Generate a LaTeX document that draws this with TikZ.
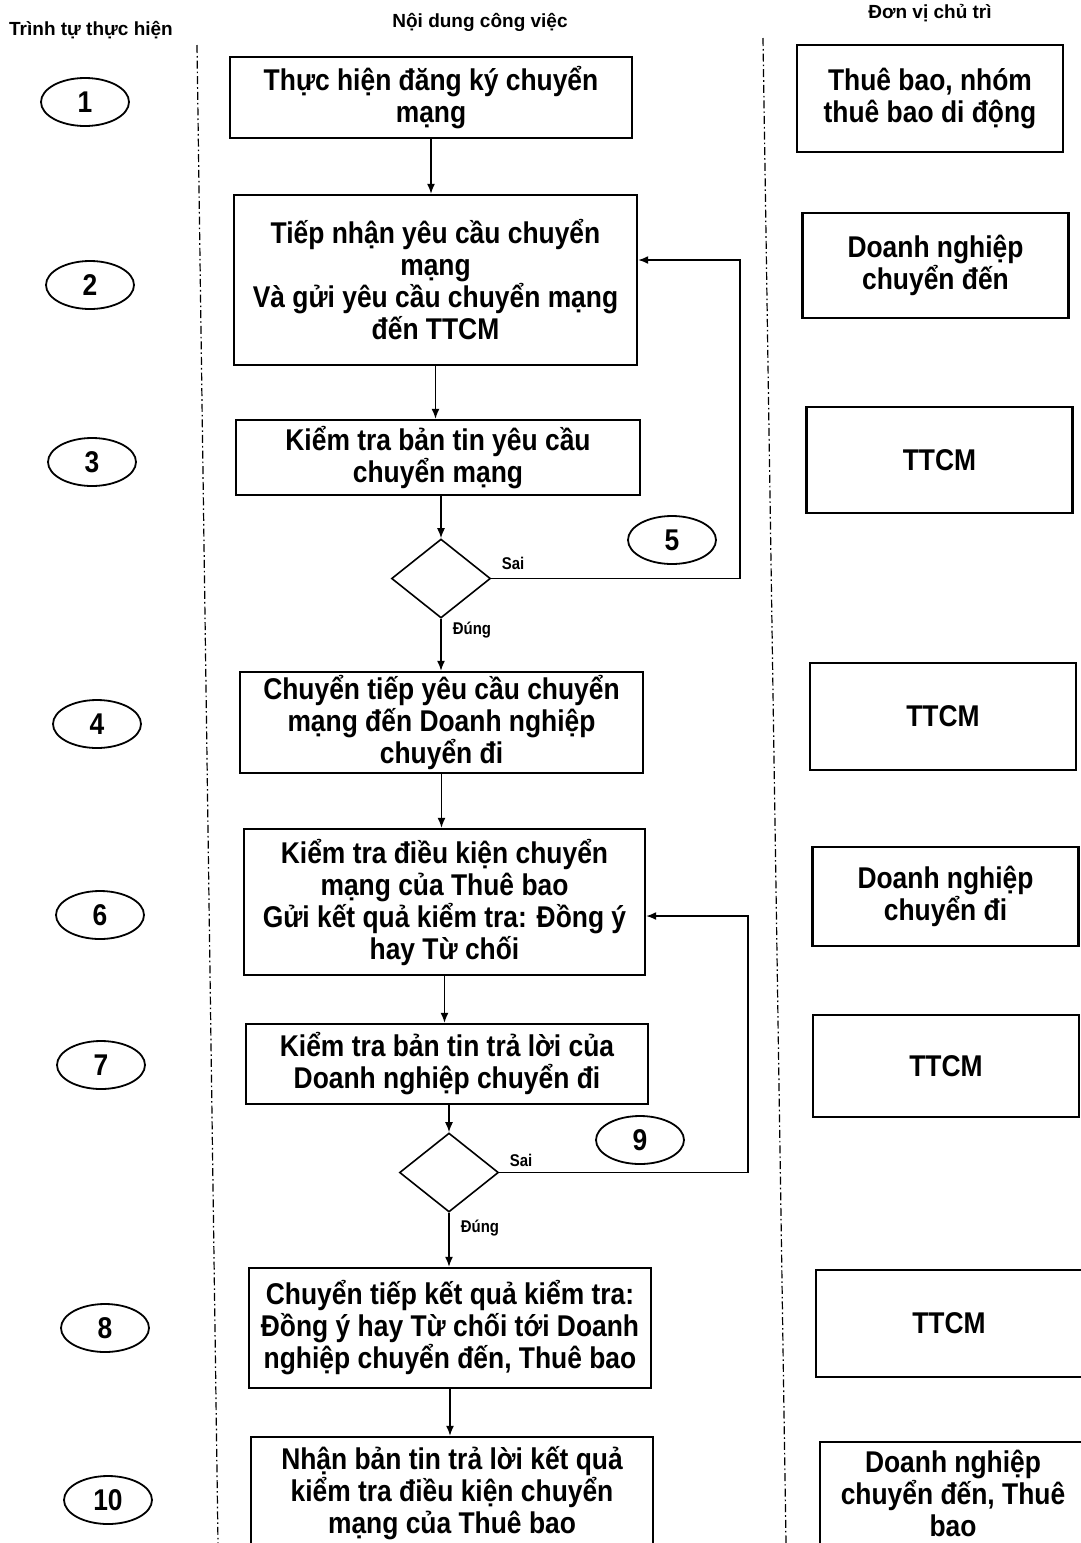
\documentclass[tikz,border=0pt]{standalone}
\usepackage{fontspec}
\setmainfont{Liberation Sans}[FakeStretch=0.88]
\newfontfamily\hdfont{Liberation Sans}
\usetikzlibrary{arrows.meta,shapes.geometric}

\begin{document}
\begin{tikzpicture}[x=0.5pt,y=-0.5pt,
  task/.style={draw,line width=1.2pt,align=center,inner sep=0pt,
    font=\fontsize{15}{16}\selectfont\bfseries},
  unit/.style={task,minimum width=133pt},
  stepnum/.style={draw,ellipse,line width=0.9pt,minimum width=44pt,minimum height=24pt,
    inner sep=0pt,font=\fontsize{15}{16}\selectfont\bfseries},
  test/.style={draw,diamond,line width=0.8pt,minimum width=49.5pt,minimum height=39.5pt,inner sep=0pt},
  flow/.style={line width=0.75pt,-{Latex[length=5pt,width=4pt]}},
  lane/.style={line width=0.6pt,dash pattern=on 4pt off 1.5pt on 0.8pt off 1.5pt},
  lbl/.style={font=\fontsize{8.5}{9}\selectfont\bfseries},
  head/.style={font=\hdfont\fontsize{9.5}{10}\selectfont\bfseries}]
\clip (0,0) rectangle (1081,1543);
\useasboundingbox (0,0) rectangle (1081,1543);
% headers
\node[head] (h1) at (91,30) {Trình tự thực hiện};
\node[head] (h2) at (480,22) {Nội dung công việc};
\node[head] (h3) at (930,13) {Đơn vị chủ trì};
\draw[lane] (197,45) -- (218,1543);
\draw[lane] (763,38) -- (786,1543);
% step numbers
\node[stepnum] (n1) at (85,102) {1};
\node[stepnum] (n2) at (90,285) {2};
\node[stepnum] (n3) at (92,462) {3};
\node[stepnum] (n4) at (97,724) {4};
\node[stepnum] (n5) at (672,540) {5};
\node[stepnum] (n6) at (100,915) {6};
\node[stepnum] (n7) at (101,1065) {7};
\node[stepnum] (n8) at (105,1328) {8};
\node[stepnum] (n9) at (640,1140) {9};
\node[stepnum] (n10) at (108,1500) {10};
% work boxes
\node[task,minimum width=201pt,minimum height=40.5pt] (b1) at (431,97.5) {Thực hiện đăng ký chuyển\\mạng};
\node[task,minimum width=201.5pt,minimum height=85pt] (b2) at (435.5,280) {Tiếp nhận yêu cầu chuyển\\mạng\\Và gửi yêu cầu chuyển mạng\\đến TTCM};
\node[task,minimum width=202pt,minimum height=37.5pt] (b3) at (438,457.5) {Kiểm tra bản tin yêu cầu\\chuyển mạng};
\node[test] (d1) at (441,578.5) {};
\node[task,minimum width=201.5pt,minimum height=50.5pt] (b4) at (441.5,722.5) {Chuyển tiếp yêu cầu chuyển\\mạng đến Doanh nghiệp\\chuyển đi};
\node[task,minimum width=200.5pt,minimum height=73pt] (b6) at (444.5,902) {Kiểm tra điều kiện chuyển\\mạng của Thuê bao\\Gửi kết quả kiểm tra: Đồng ý\\hay Từ chối};
\node[task,minimum width=201pt,minimum height=40pt] (b7) at (447,1064) {Kiểm tra bản tin trả lời của\\Doanh nghiệp chuyển đi};
\node[test] (d2) at (449,1172.5) {};
\node[task,minimum width=201pt,minimum height=60pt] (b8) at (450,1328) {Chuyển tiếp kết quả kiểm tra:\\Đồng ý hay Từ chối tới Doanh\\nghiệp chuyển đến, Thuê bao};
\node[task,minimum width=201pt,minimum height=56.5pt] (b10) at (452,1493.5) {Nhận bản tin trả lời kết quả\\kiểm tra điều kiện chuyển\\mạng của Thuê bao};
% units in charge
\node[unit,minimum height=53.5pt] (r1) at (930,98.5) {Thuê bao, nhóm\\thuê bao di động};
\node[unit,minimum height=52.5pt] (r2) at (935.5,265.5) {Doanh nghiệp\\chuyển đến};
\node[unit,minimum height=53pt] (r3) at (939.5,460) {TTCM};
\node[unit,minimum height=53.5pt] (r4) at (943,716.5) {TTCM};
\node[unit,minimum height=49.5pt] (r6) at (945.5,896.5) {Doanh nghiệp\\chuyển đi};
\node[unit,minimum height=51pt] (r7) at (946,1066) {TTCM};
\node[unit,minimum height=53.5pt] (r8) at (949,1323.5) {TTCM};
\node[unit,minimum height=51.5pt] (r10) at (953,1493.5) {Doanh nghiệp\\chuyển đến, Thuê\\bao};
% connectors
\coordinate (l5) at (740,578.5);
\coordinate (l9) at (748,1172.5);
\draw[flow] (b1.south) -- (b1.south |- b2.north);
\draw[flow] (b2.south) -- (b2.south |- b3.north);
\draw[flow] (d1.north |- b3.south) -- (d1.north);
\draw[flow] (d1.south) -- (d1.south |- b4.north);
\draw[flow] (d1.east) -- (l5) |- ([yshift=10pt]b2.east);
\draw[flow] (b4.south) -- (b4.south |- b6.north);
\draw[flow] (b6.south) -- (b6.south |- b7.north);
\draw[flow] (d2.north |- b7.south) -- (d2.north);
\draw[flow] (d2.south) -- (d2.south |- b8.north);
\draw[flow] (d2.east) -- (l9) |- ([yshift=-7pt]b6.east);
\draw[flow] (b8.south) -- (b8.south |- b10.north);
\node[lbl] (s1) at (513,563) {Sai};
\node[lbl] (t1) at (472,630) {Đúng};
\node[lbl] (s2) at (521,1160) {Sai};
\node[lbl] (t2) at (480,1228) {Đúng};
\end{tikzpicture}
\end{document}
